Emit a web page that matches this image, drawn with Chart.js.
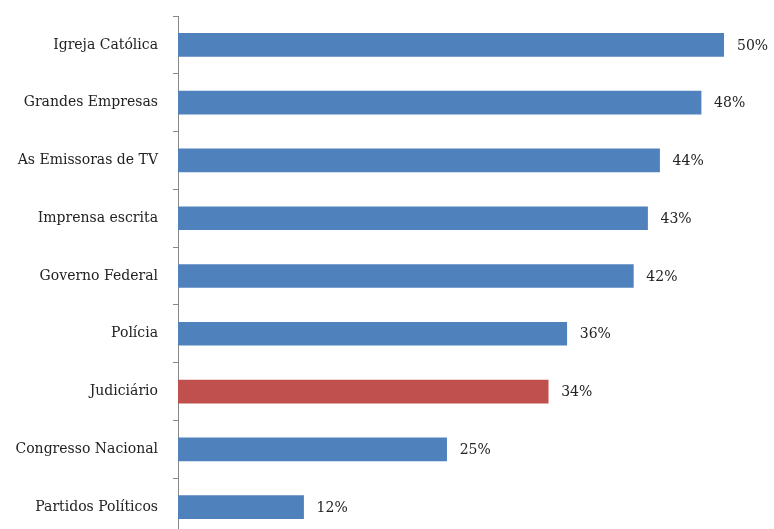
<!DOCTYPE html>
<html><head><meta charset="utf-8">
<script src="https://cdn.jsdelivr.net/npm/chart.js@4/dist/chart.umd.min.js"></script>
<style>html,body{margin:0;padding:0;background:#fff;overflow:hidden;width:774px;height:529px}#w{width:774px;height:540px}</style>
</head><body><div id="w"><canvas id="c" width="774" height="540"></canvas></div>
<script>
const categories = ["Igreja Católica","Grandes Empresas","As Emissoras de TV","Imprensa escrita","Governo Federal","Polícia","Judiciário","Congresso Nacional","Partidos Políticos"];
const values = [50, 47.9, 44.1, 43.0, 41.7, 35.6, 33.9, 24.6, 11.5];
const barColors = ["#4F81BD","#4F81BD","#4F81BD","#4F81BD","#4F81BD","#4F81BD","#C0504D","#4F81BD","#4F81BD"];
const FONT = "'DejaVu Serif', serif";
const valueLabels = {
  id:'valueLabels',
  afterDatasetsDraw(chart){
    const ctx = chart.ctx;
    const meta = chart.getDatasetMeta(0);
    ctx.save();
    ctx.font = "14px " + FONT;
    ctx.fillStyle = "#222";
    ctx.textBaseline = "middle";
    ctx.textAlign = "left";
    meta.data.forEach((el,i)=>{
      ctx.fillText(Math.round(values[i]) + "%", el.x + 13, el.y + 1);
    });
    ctx.restore();
  }
};
new Chart(document.getElementById('c'), {
  type:'bar',
  data:{labels:categories, datasets:[{data:values, backgroundColor:barColors, borderWidth:0, barThickness:23}]},
  options:{
    indexAxis:'y', responsive:false, animation:false,
    layout:{padding:{top:16,bottom:4,left:0,right:50}},
    plugins:{legend:{display:false}, tooltip:{enabled:false}},
    scales:{
      x:{display:false, min:0, max:50},
      y:{
        afterFit(s){ s.width = 178; s.paddingTop = 0; s.paddingBottom = 0; },
        grid:{drawOnChartArea:false, drawTicks:true, tickLength:5, color:'#888', offset:true},
        border:{display:true, color:'#888', width:1},
        ticks:{color:'#222', font:{family:FONT, size:14}, padding:15}
      }
    }
  },
  plugins:[valueLabels]
});
</script></body></html>
